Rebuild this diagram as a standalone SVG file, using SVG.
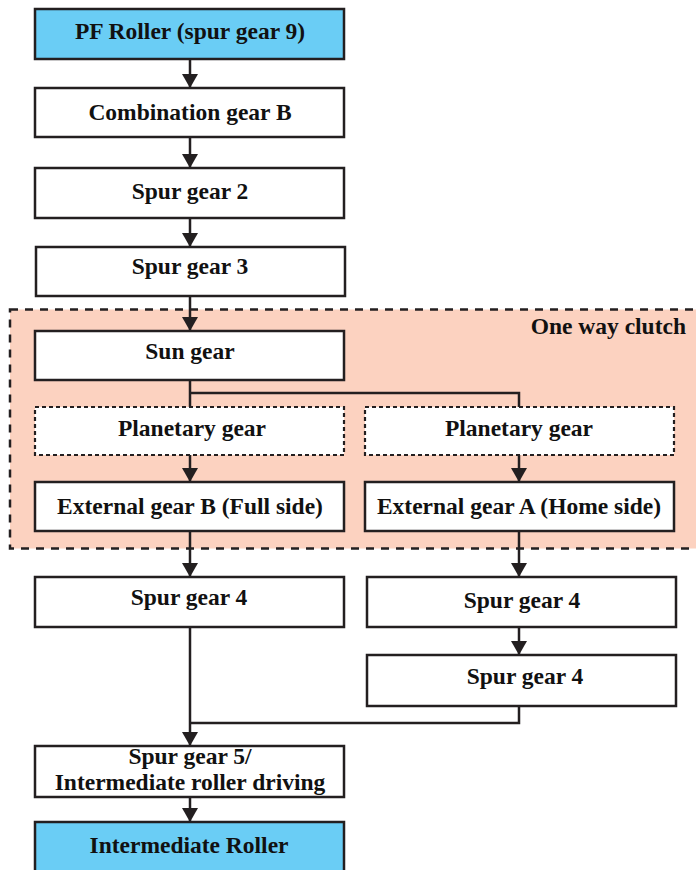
<svg xmlns="http://www.w3.org/2000/svg" width="696" height="870" viewBox="0 0 696 870">
<defs>
<style>
.box{fill:#ffffff;stroke:#231f20;stroke-width:2.5}
.blue{fill:#6acdf5;stroke:#231f20;stroke-width:2.5}
.dot{fill:#ffffff;stroke:#231f20;stroke-width:2.2;stroke-dasharray:4 3}
.zone{fill:#fcd2c0;stroke:#231f20;stroke-width:2.5;stroke-dasharray:8 7}
.t{font-family:"Liberation Serif","Times New Roman",serif;font-weight:bold;font-size:23.5px;fill:#111;text-anchor:middle}
.c{fill:none;stroke:#231f20;stroke-width:2.5}
</style>
<marker id="ah" markerUnits="userSpaceOnUse" markerWidth="16" markerHeight="16" viewBox="0 0 16 16" refX="14" refY="8" orient="auto">
<path d="M0,0 L14,8 L0,16 z" fill="#231f20"/>
</marker>
</defs>
<rect width="696" height="870" fill="#ffffff"/>
<g id="one-way-clutch">
<rect class="zone" x="10" y="309.5" width="700" height="239"/>
<text class="t" x="686" y="334" style="text-anchor:end">One way clutch</text>
</g>
<g id="connectors">
<path class="c" d="M190,59 V88" marker-end="url(#ah)"/>
<path class="c" d="M190,137 V168" marker-end="url(#ah)"/>
<path class="c" d="M190,218 V247" marker-end="url(#ah)"/>
<path class="c" d="M190,296 V331" marker-end="url(#ah)"/>
<path class="c" d="M190,380 V407 M190,393 H519 V407"/>
<path class="c" d="M190,455 V482" marker-end="url(#ah)"/>
<path class="c" d="M519,455 V482" marker-end="url(#ah)"/>
<path class="c" d="M190,531 V577" marker-end="url(#ah)"/>
<path class="c" d="M519,531 V577" marker-end="url(#ah)"/>
<path class="c" d="M519,627 V655" marker-end="url(#ah)"/>
<path class="c" d="M519,706 V723 H190"/>
<path class="c" d="M190,627 V746" marker-end="url(#ah)"/>
<path class="c" d="M190,797 V822" marker-end="url(#ah)"/>
</g>
<g id="pf-roller"><rect class="blue" x="35" y="9" width="309" height="50"/><text class="t" x="190" y="38.5">PF Roller (spur gear 9)</text></g>
<g id="combination-gear-b"><rect class="box" x="35" y="88" width="309" height="49"/><text class="t" x="190" y="119.5">Combination gear B</text></g>
<g id="spur-gear-2"><rect class="box" x="35" y="168" width="309" height="50"/><text class="t" x="190" y="198.5">Spur gear 2</text></g>
<g id="spur-gear-3"><rect class="box" x="36" y="247" width="309" height="49"/><text class="t" x="190" y="274">Spur gear 3</text></g>
<g id="sun-gear"><rect class="box" x="35" y="331" width="309" height="49"/><text class="t" x="190" y="359">Sun gear</text></g>
<g id="planetary-left"><rect class="dot" x="35" y="407" width="309" height="48"/><text class="t" x="192" y="436">Planetary gear</text></g>
<g id="planetary-right"><rect class="dot" x="365" y="407" width="309" height="48"/><text class="t" x="519" y="436">Planetary gear</text></g>
<g id="external-gear-b"><rect class="box" x="35" y="482" width="309" height="49"/><text class="t" x="190" y="513.5">External gear B (Full side)</text></g>
<g id="external-gear-a"><rect class="box" x="365" y="482" width="309" height="49"/><text class="t" x="519" y="513.5">External gear A (Home side)</text></g>
<g id="spur-gear-4-left"><rect class="box" x="35" y="577" width="309" height="50"/><text class="t" x="189" y="605">Spur gear 4</text></g>
<g id="spur-gear-4-right-a"><rect class="box" x="367" y="577" width="309" height="50"/><text class="t" x="522" y="607.5">Spur gear 4</text></g>
<g id="spur-gear-4-right-b"><rect class="box" x="367" y="655" width="309" height="51"/><text class="t" x="525" y="684">Spur gear 4</text></g>
<g id="spur-gear-5"><rect class="box" x="35" y="746" width="309" height="51"/><text class="t" x="190" y="764">Spur gear 5/</text><text class="t" x="190" y="789.5">Intermediate roller driving</text></g>
<g id="intermediate-roller"><rect class="blue" x="35" y="822" width="309" height="52"/><text class="t" x="189" y="852.5">Intermediate Roller</text></g>
</svg>
